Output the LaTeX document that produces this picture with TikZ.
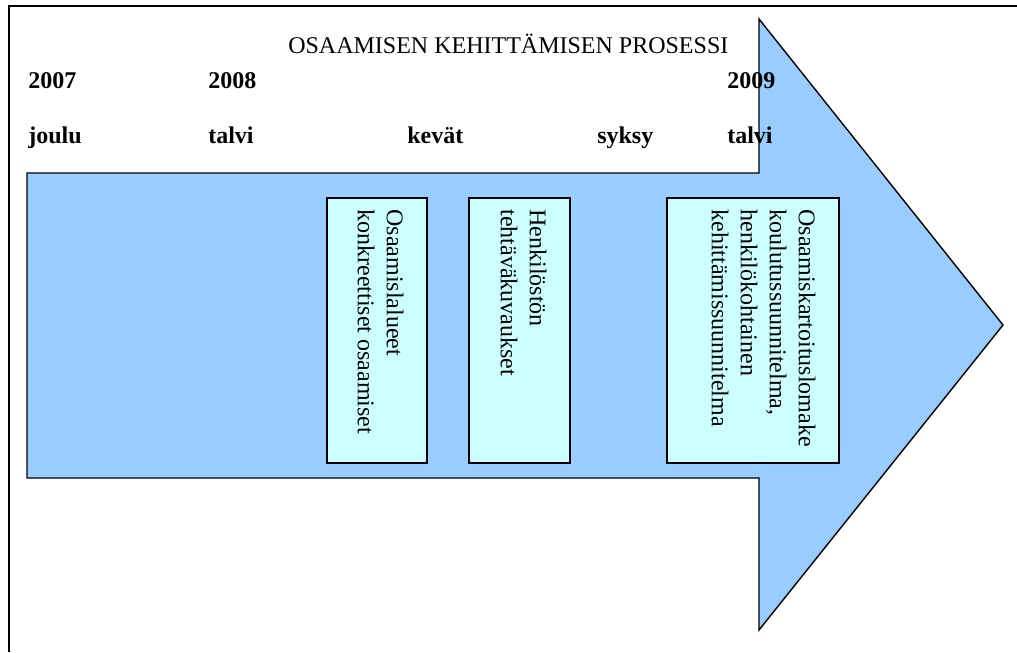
\documentclass[tikz,border=0pt]{standalone}
\usepackage{fontspec}
\setmainfont{Liberation Serif}
\usepackage{xcolor}
\definecolor{arrowblue}{HTML}{99CCFF}
\definecolor{boxcyan}{HTML}{CCFFFF}

\begin{document}
\begin{tikzpicture}[x=0.025cm,y=-0.025cm,
    every node/.style={font=\fontsize{17.07pt}{20.6pt}\selectfont},
    lbl/.style={anchor=base west,inner sep=0pt,font=\fontsize{17.07pt}{20.6pt}\selectfont\bfseries},
    stagebox/.style={draw,fill=boxcyan,line width=1pt,minimum height=6.625cm,inner sep=0pt},
    boxtext/.style={rotate=-90,anchor=north west,align=left,inner sep=0pt}]
          \useasboundingbox (0,0) rectangle (1017,652);
          % frame
          \draw[line width=1.4pt] (9,652) -- (9,6) -- (1017,6);

          % big arrow
          \draw[fill=arrowblue,line width=1pt,line join=miter]
            (27,173) -- (759,173) -- (759,19) -- (1003,325) -- (759,630) -- (759,478) -- (27,478) -- cycle;

          \node[anchor=base west,inner sep=0pt] (title) at (288,53) {OSAAMISEN KEHITTÄMISEN PROSESSI};

          \node[lbl] (y1) at (28,88) {2007};
          \node[lbl] (y2) at (208,88) {2008};
          \node[lbl] (y3) at (727,88) {2009};
          \node[lbl] (s1) at (28,143) {joulu};
          \node[lbl] (s2) at (208,143) {talvi};
          \node[lbl] (s3) at (407,143) {kevät};
          \node[lbl] (s4) at (597,143) {syksy};
          \node[lbl] (s5) at (727,143) {talvi};

          \node[stagebox,minimum width=2.5cm] (b1) at (377,330.5) {};
          \node[stagebox,minimum width=2.525cm] (b2) at (519.5,330.5) {};
          \node[stagebox,minimum width=4.3cm] (b3) at (753,330.5) {};

          \node[boxtext] (t1) at ([shift={(-24,12)}]b1.north east) {Osaamislalueet\\konkreettiset osaamiset};
          \node[boxtext] (t2) at ([shift={(-24,12)}]b2.north east) {Henkilöstön\\tehtäväkuvaukset};
          \node[boxtext] (t3) at ([shift={(-24,12)}]b3.north east) {Osaamiskartoituslomake\\koulutussuunnitelma,\\henkilökohtainen\\kehittämissuunnitelma};
        \end{tikzpicture}
\end{document}
